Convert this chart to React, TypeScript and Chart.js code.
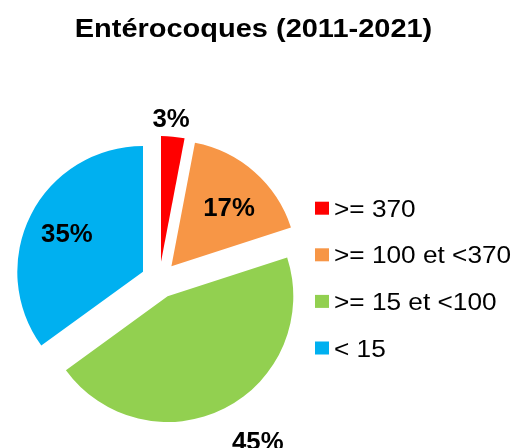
import React, { useEffect, useRef } from "react";
import { Chart, registerables } from "chart.js";

Chart.register(...registerables);

const titleText = "Entérocoques (2011-2021)";
const categories = [">= 370", ">= 100 et <370", ">= 15 et <100", "< 15"];
const values = [3, 17, 45, 35];
const colors = ["#FF0000", "#F79646", "#92D050", "#00B0F0"];

const FONT = '"Liberation Sans", Arial, sans-serif';
const EXPLODE = 18.3;
// label placement (style): radial factor of radius and angle nudge in degrees
const LABEL_PLACE = [
  { f: 1.15, a: -1.4 },
  { f: 0.655, a: 3 },
  { f: 1.354, a: -5 },
  { f: 0.68, a: 0 },
];

function drawText(
  ctx: CanvasRenderingContext2D,
  text: string,
  x: number,
  y: number,
  font: string,
  sx: number,
  align: "left" | "center"
) {
  ctx.save();
  ctx.font = font;
  ctx.textBaseline = "alphabetic";
  ctx.textAlign = "left";
  const w = ctx.measureText(text).width * sx;
  const left = align === "center" ? x - w / 2 : x;
  ctx.translate(left, y);
  ctx.scale(sx, 1);
  ctx.fillStyle = "#000";
  ctx.fillText(text, 0, 0);
  ctx.restore();
}

const explodedPie = {
  id: "explodedPie",
  beforeDatasetDraw(chart: any, args: any) {
    const ctx = chart.ctx as CanvasRenderingContext2D;
    args.meta.data.forEach((arc: any) => {
      const { startAngle, endAngle } = arc.getProps(["startAngle", "endAngle"], true);
      const mid = (startAngle + endAngle) / 2;
      ctx.save();
      ctx.translate(Math.cos(mid) * EXPLODE, Math.sin(mid) * EXPLODE);
      arc.draw(ctx);
      ctx.restore();
    });
    return false;
  },
  afterDraw(chart: any) {
    const ctx = chart.ctx as CanvasRenderingContext2D;
    // title
    drawText(ctx, titleText, 253.5, 36.5, `bold 25px ${FONT}`, 1.159, "center");

    // value labels
    const meta = chart.getDatasetMeta(0);
    const data = chart.data.datasets[0].data as number[];
    meta.data.forEach((arc: any, i: number) => {
      const { startAngle, endAngle, x, y, outerRadius } = arc.getProps(
        ["startAngle", "endAngle", "x", "y", "outerRadius"],
        true
      );
      const mid = (startAngle + endAngle) / 2;
      const ax = x + Math.cos(mid) * EXPLODE;
      const ay = y + Math.sin(mid) * EXPLODE;
      const p = LABEL_PLACE[i];
      const la = mid + (p.a * Math.PI) / 180;
      const lx = ax + Math.cos(la) * outerRadius * p.f;
      const ly = ay + Math.sin(la) * outerRadius * p.f;
      drawText(ctx, `${data[i]}%`, lx, ly + 9, `bold 25px ${FONT}`, 1.03, "center");
    });

    // legend
    const labels = chart.data.labels as string[];
    const bg = chart.data.datasets[0].backgroundColor as string[];
    const rowTop = 216.7;
    const rowStep = 46.6;
    labels.forEach((lab, i) => {
      const base = rowTop + i * rowStep;
      ctx.save();
      ctx.fillStyle = bg[i];
      ctx.fillRect(315, base - 15, 14, 13);
      ctx.restore();
      drawText(ctx, lab, 334, base, `23px ${FONT}`, 1.14, "left");
    });
  },
};

export default function App() {
  const ref = useRef<HTMLCanvasElement | null>(null);

  useEffect(() => {
    if (!ref.current) return;
    const chart = new Chart(ref.current, {
      type: "pie",
      data: {
        labels: categories,
        datasets: [
          {
            data: values,
            backgroundColor: colors,
            borderWidth: 0,
            offset: 0,
          },
        ],
      },
      options: {
        responsive: false,
        animation: false,
        events: [],
        radius: 125.7,
        layout: {
          padding: { left: 9.3, right: 212.7, top: 140, bottom: 28 },
        },
        plugins: {
          legend: { display: false },
          title: { display: false },
          tooltip: { enabled: false },
        },
      } as any,
      plugins: [explodedPie],
    });
    return () => chart.destroy();
  }, []);

  return (
    <div
      style={{
        position: "fixed",
        left: 0,
        top: 0,
        width: 522,
        height: 448,
        background: "#fff",
      }}
    >
      <canvas ref={ref} width={522} height={448} style={{ display: "block" }} />
    </div>
  );
}
